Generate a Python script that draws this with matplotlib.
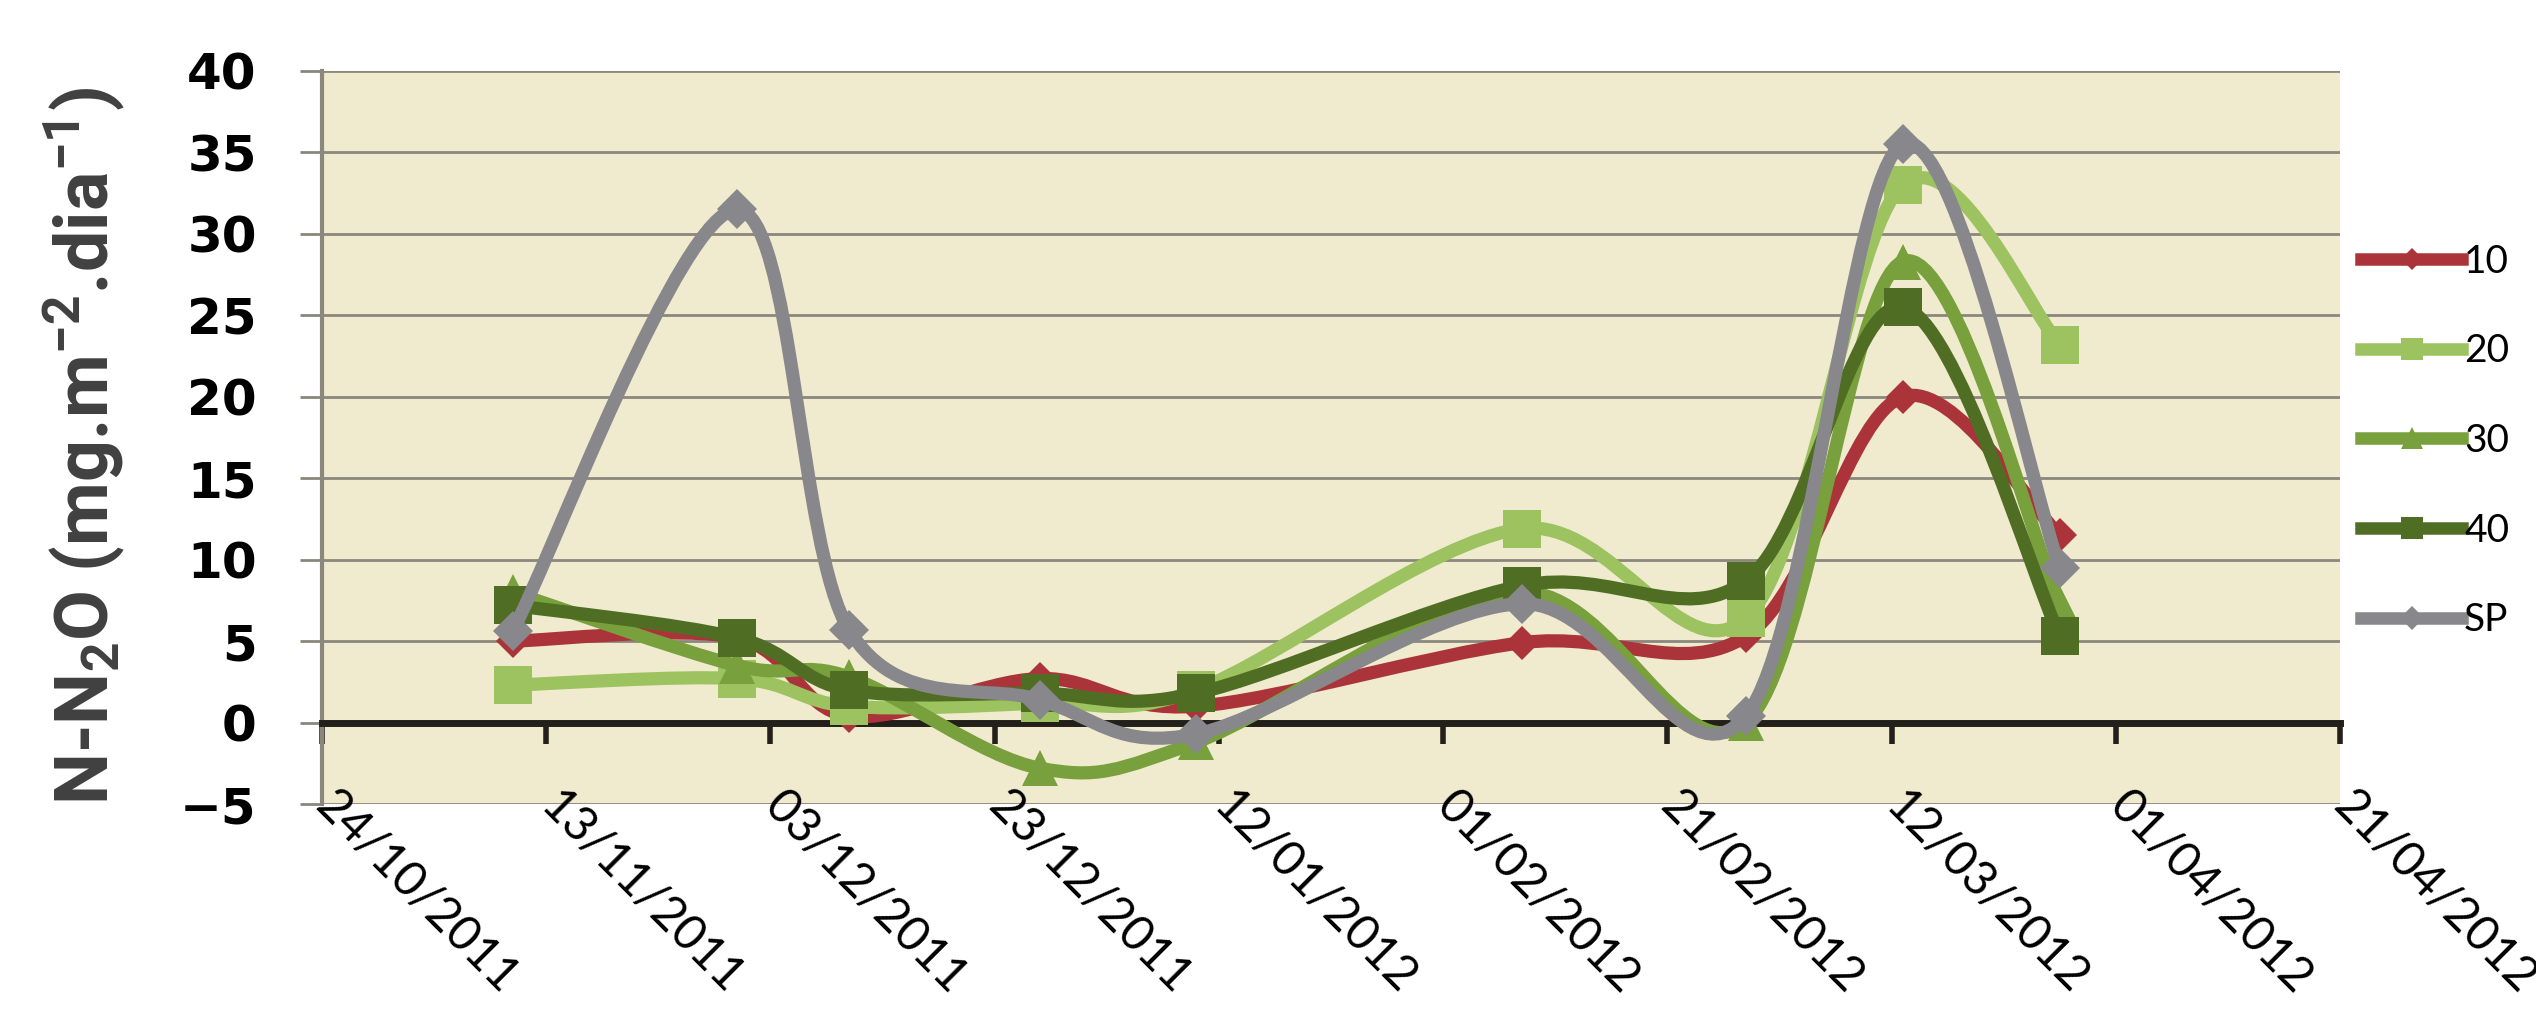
import numpy as np
import pandas as pd
import matplotlib
matplotlib.use('Agg')
import matplotlib.pyplot as plt
import matplotlib.dates as mdates
import matplotlib.transforms as mtransforms
from matplotlib.path import Path
from matplotlib.patches import PathPatch
from matplotlib.lines import Line2D

plt.rcParams['mathtext.fontset'] = 'custom'
plt.rcParams['mathtext.rm'] = 'Roboto:bold'
plt.rcParams['mathtext.default'] = 'rm'

# sampling dates and N-N2O flux per treatment
sample_dates = ['2011-11-10', '2011-11-30', '2011-12-10', '2011-12-27', '2012-01-10',
                '2012-02-08', '2012-02-28', '2012-03-13', '2012-03-27']
s10 = [5.0, 5.2, 0.4, 2.7, 1.0, 4.9, 5.3, 20.0, 11.5]
s20 = [2.3, 2.7, 1.0, 1.2, 2.0, 11.9, 6.4, 33.0, 23.2]
s30 = [8.0, 3.5, 2.8, -2.8, -1.2, 8.0, 0.0, 28.3, 7.3]
s40 = [7.2, 5.2, 2.0, 1.8, 1.8, 8.4, 8.7, 25.5, 5.3]
sp = [5.6, 31.5, 5.7, 1.4, -0.7, 7.3, 0.4, 35.5, 9.5]

series_names = ['10', '20', '30', '40', 'SP']
series_values = [s10, s20, s30, s40, sp]
colors = ['#AA3439', '#9CC35F', '#78A03C', '#506E23', '#87878C']
markers = ['D', 's', '^', 's', 'D']
msizes = [17, 27, 26, 27, 20]
leg_msizes = [11, 16, 16, 16, 12]

tick_labels = ['24/10/2011', '13/11/2011', '03/12/2011', '23/12/2011', '12/01/2012',
               '01/02/2012', '21/02/2012', '12/03/2012', '01/04/2012', '21/04/2012']
y_ticks = list(range(-5, 41, 5))


def smooth_path(x, y):
    """Excel-like smoothed line (Catmull-Rom as cubic Bezier)"""
    n = len(x)
    verts = [(x[0], y[0])]
    codes = [Path.MOVETO]
    for i in range(n - 1):
        xa, ya = (x[i - 1], y[i - 1]) if i > 0 else (x[i], y[i])
        xb, yb = (x[i + 2], y[i + 2]) if i + 2 < n else (x[i + 1], y[i + 1])
        c1 = (x[i] + (x[i + 1] - xa) / 6, y[i] + (y[i + 1] - ya) / 6)
        c2 = (x[i + 1] - (xb - x[i]) / 6, y[i + 1] - (yb - y[i]) / 6)
        verts += [c1, c2, (x[i + 1], y[i + 1])]
        codes += [Path.CURVE4] * 3
    return Path(verts, codes)


x = mdates.date2num(pd.to_datetime(sample_dates).to_numpy())
xt = mdates.date2num(pd.to_datetime(tick_labels, format='%d/%m/%Y').to_numpy())

fig = plt.figure(figsize=(25.36, 10.10), dpi=100)
ax = fig.add_axes([322 / 2536, 1 - 804 / 1010, (2340 - 322) / 2536, (804 - 71) / 1010])
ax.set_facecolor('#F0EACE')
ax.set_xlim(xt[0], xt[-1])
ax.set_ylim(-5, 40)

for i, (name, vals) in enumerate(zip(series_names, series_values)):
    patch = PathPatch(smooth_path(x, vals), facecolor='none', edgecolor=colors[i],
                      lw=9.5, capstyle='round', joinstyle='round', zorder=3 + 2 * i)
    ax.add_patch(patch)
    ax.plot(x, vals, linestyle='none', marker=markers[i], ms=msizes[i],
            color=colors[i], mew=0, zorder=4 + 2 * i)

# eixo y
ax.set_yticks(y_ticks)
ax.yaxis.grid(True, color='#8A877C', lw=2)
ax.set_axisbelow(True)
ax.tick_params(axis='y', direction='out', length=16, width=2, color='#8A877C',
               labelsize=36, pad=31, labelcolor='black')
for lab in ax.get_yticklabels():
    lab.set_fontfamily('DejaVu Sans')
    lab.set_fontweight('bold')

ax.spines['top'].set_visible(False)
ax.spines['right'].set_visible(False)
ax.spines['left'].set_color('#8A877C')
ax.spines['left'].set_linewidth(3)

# eixo x cruzando em 0, rotulos embaixo
ax.spines['bottom'].set_position(('data', 0))
ax.spines['bottom'].set_color('#231F1A')
ax.spines['bottom'].set_linewidth(5)
ax.set_xticks(xt)
ax.tick_params(axis='x', direction='out', length=15, width=4, color='#231F1A',
               labelbottom=False)

trans = mtransforms.blended_transform_factory(ax.transData, ax.transAxes)
trans = mtransforms.offset_copy(trans, fig=fig, x=12, y=15, units='points')
for xv, lab in zip(xt, tick_labels):
    ax.text(xv, 0, lab, transform=trans, rotation=-45, rotation_mode='anchor',
            ha='left', va='top', fontsize=34.5, family='Lato', color='black', clip_on=False)

fig.text(84 / 2536, 1 - 446 / 1010, r'N-N$_2$O (mg.m$^{-2}$.dia$^{-1}$)', rotation=90,
         ha='center', va='center', fontsize=53, fontweight='bold', color='#404040',
         family=['Roboto', 'DejaVu Sans'])

handles = [Line2D([], [], color=c, lw=9, marker=m, ms=s, mew=0)
           for c, m, s in zip(colors, markers, leg_msizes)]
fig.legend(handles, series_names, loc='center left', bbox_to_anchor=(2361 / 2536, 1 - 441 / 1010),
           frameon=False, borderpad=0, borderaxespad=0, handlelength=2.6, handletextpad=0.05,
           labelspacing=1.38, prop={'family': 'Lato', 'size': 28})

fig.savefig('out.png', dpi=100)
